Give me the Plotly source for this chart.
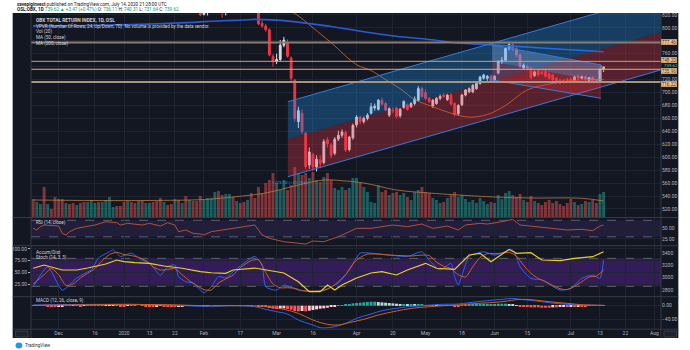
import plotly.graph_objects as go
import pandas as pd

# ---------------- sessions (Oslo Børs trading days) ----------------
HOLIDAYS = ["2019-12-24", "2019-12-25", "2019-12-26", "2019-12-31", "2020-01-01",
            "2020-04-09", "2020-04-10", "2020-04-13", "2020-05-01", "2020-05-21", "2020-06-01"]
sessions = [d.strftime("%Y-%m-%d") for d in pd.bdate_range("2019-11-21", "2020-08-10")
            if d.strftime("%Y-%m-%d") not in HOLIDAYS]
OFF = sessions.index("2019-12-02")   # bar numbers below are counted from 2019-12-02

TICK_DATES = ["2019-12-02", "2019-12-16", "2020-01-02", "2020-01-13", "2020-01-22", "2020-02-03",
              "2020-02-17", "2020-03-02", "2020-03-16", "2020-04-01", "2020-04-20", "2020-05-04",
              "2020-05-18", "2020-06-02", "2020-06-15", "2020-07-01", "2020-07-13", "2020-07-22",
              "2020-08-03"]
TICK_TEXT = ["Dec", "16", "2020", "13", "22", "Feb", "17", "Mar", "16", "Apr", "20", "May",
             "18", "Jun", "15", "Jul", "13", "22", "Aug"]

# ---------------- daily OHLC, bars -7 .. 150 ----------------
OPEN = [852, 848, 851, 855, 846, 851, 849, 846, 842, 838,
        843, 841, 837, 843, 841, 838, 843, 848, 853, 850,
        854, 858, 862, 866, 862, 860, 856, 861, 858, 854,
        859, 855, 860, 864, 860, 855, 848, 852, 846, 841,
        846, 838, 842, 833, 837, 830, 826, 821, 824, 834,
        840, 846, 838, 824, 832, 838, 834, 840, 836, 833,
        838, 836, 830, 807, 803, 797, 756, 748, 751, 773,
        777, 753, 719, 655, 668, 637, 588, 604, 585, 596,
        592, 627, 619, 606, 628, 634, 638, 612, 630, 650,
        662, 655, 660, 668, 676, 674, 688, 683, 665, 673,
        676, 664, 677, 681, 678, 683, 688, 706, 700, 691,
        679, 683, 691, 696, 689, 696, 683, 667, 681, 696,
        701, 701, 706, 714, 722, 722, 725, 718, 730, 748,
        750, 768, 774, 768, 758, 738, 740, 737, 726, 734,
        732, 732, 729, 727, 722, 719, 719, 720, 721, 718,
        725, 722, 724, 717, 723, 719, 717, 736.11]
HIGH = [855, 853, 857, 856, 852, 853, 851, 848, 844, 846,
        845, 843, 844, 845, 842, 845, 850, 854, 855, 856,
        860, 864, 867, 868, 864, 863, 863, 863, 860, 861,
        861, 862, 866, 866, 862, 857, 855, 854, 848, 848,
        847, 845, 844, 840, 839, 832, 828, 827, 836, 842,
        848, 847, 840, 834, 840, 840, 842, 842, 838, 840,
        840, 838, 832, 811, 806, 799, 759, 760, 781, 786,
        782, 756, 721, 678, 674, 639, 615, 607, 603, 603,
        628, 631, 622, 631, 641, 643, 641, 633, 652, 665,
        664, 663, 668, 684, 683, 690, 692, 685, 677, 677,
        678, 676, 688, 683, 685, 694, 710, 709, 705, 693,
        690, 693, 697, 699, 698, 699, 685, 682, 698, 705,
        708, 713, 716, 726, 729, 727, 728, 727, 750, 755,
        770, 778, 776, 770, 760, 745, 742, 739, 734, 736,
        734, 735, 731, 729, 724, 721, 721, 723, 724, 726,
        728, 726, 726, 724, 725, 721, 737, 740.31]
LOW = [846, 845, 849, 843, 844, 845, 842, 838, 835, 836,
       837, 834, 835, 838, 835, 836, 841, 846, 848, 848,
       852, 856, 860, 860, 857, 853, 854, 855, 851, 852,
       853, 853, 858, 858, 852, 845, 846, 843, 838, 839,
       835, 836, 830, 831, 828, 823, 818, 819, 819, 832,
       838, 836, 816, 819, 830, 831, 832, 833, 830, 831,
       833, 831, 804, 800, 794, 756, 740, 744, 748, 770,
       754, 718, 655, 645, 636, 581, 582, 579, 578, 583,
       589, 615, 598, 603, 625, 630, 608, 609, 627, 646,
       651, 652, 657, 666, 672, 672, 680, 671, 662, 668,
       660, 661, 675, 672, 676, 680, 686, 692, 688, 684,
       676, 681, 688, 692, 687, 680, 663, 664, 679, 694,
       699, 699, 704, 712, 720, 718, 716, 716, 728, 744,
       748, 765, 764, 755, 738, 735, 734, 720, 724, 725,
       727, 723, 720, 718, 714, 713, 714, 715, 715, 716,
       719, 720, 718, 715, 715, 714, 715, 731.64]
CLOSE = [848, 851, 855, 846, 850, 848, 845, 841, 838, 843,
         840, 837, 842, 840, 838, 843, 848, 852, 850, 854,
         858, 862, 865, 862, 859, 856, 861, 857, 854, 859,
         855, 860, 864, 860, 855, 848, 852, 846, 841, 846,
         838, 842, 833, 837, 830, 826, 820, 825, 834, 840,
         846, 838, 824, 832, 838, 834, 840, 836, 833, 838,
         836, 834, 806, 803, 797, 758, 748, 751, 773, 781,
         756, 722, 660, 672, 640, 585, 608, 585, 597, 590,
         624, 621, 603, 628, 634, 639, 611, 631, 649, 662,
         655, 660, 665, 678, 679, 688, 682, 673, 675, 672,
         663, 674, 686, 674, 683, 690, 706, 694, 691, 686,
         688, 691, 694, 694, 696, 682, 666, 680, 696, 704,
         706, 711, 714, 724, 727, 725, 718, 725, 748, 750,
         768, 774, 768, 758, 740, 742, 736, 723, 732, 727,
         729, 725, 722, 719.5, 717, 714.5, 715.5, 716, 717, 724,
         721, 724, 720, 723, 717, 715.5, 736.15, 739.62]
VOLUME = [18, 15, 13, 30, 13, 8, 20, 18, 18, 14,
          13, 14, 12, 14, 15, 15, 17, 14, 15, 15,
          17, 20, 10, 11, 11, 15, 16, 15, 14, 16,
          16, 14, 14, 15, 16, 19, 15, 12, 13, 18,
          17, 14, 21, 17, 16, 16, 21, 17, 19, 19,
          25, 26, 22, 23, 23, 20, 16, 14, 15, 17,
          24, 19, 30, 24, 34, 37, 44, 34, 27, 37,
          27, 32, 50, 44, 42, 44, 39, 45, 37, 35,
          40, 44, 37, 29, 27, 30, 27, 29, 39, 39,
          34, 30, 25, 15, 14, 32, 25, 27, 22, 24,
          25, 22, 24, 20, 17, 25, 27, 30, 25, 24,
          19, 17, 14, 15, 19, 22, 25, 20, 22, 18,
          15, 17, 14, 19, 16, 13, 15, 14, 22, 18,
          24, 26, 22, 20, 23, 17, 15, 21, 16, 14,
          12, 15, 17, 14, 16, 13, 11, 14, 18, 15,
          12, 13, 16, 15, 17, 14, 23, 25]
MACD_HIST = [0.5, 1, 1.5, -0.5, -1, -1.5, -2, -1.5, -1, 0.5,
             1, 0.5, -0.5, -1, -0.5, 0.5, 1, 1.5, 2, 2,
             1.5, 1, 0.5, -0.5, -1, -1, -0.5, 0.5, 0.5, 0,
             -0.5, -1, -1.5, -1.5, -1, -0.5, -1, -1.5, -2, -2,
             -1.5, -1, -0.5, 0.5, 1, 1.5, 1.5, 1, 0.5, 0,
             0.5, 1, 1.5, 1.5, 1, 0.5, 0, -0.5, 0, 0.5,
             0.5, 0, -1, -2, -4, -7, -9, -10, -9, -8,
             -10, -12, -16, -17, -16, -17, -15, -13, -11, -9,
             -8, -6, -4, -2, 1, 2, 4, 5, 7, 8,
             9, 10, 11, 12, 12, 11, 10, 9, 8, 7,
             6, 5, 5, 4, 4, 3, 3, 3, 2, 2,
             2, 1, 1, 1, 0.5, -0.5, -1, -1, 1, 2,
             3, 4, 4, 5, 5, 5, 5, 5, 6, 6,
             6, 5, 3, 1, -1, -3, -4, -5, -5, -5,
             -6, -6, -6, -5, -5, -4, -3, -3, -2, -2,
             -1, -1, -1, -0.5, -0.5, 0, 0.5, 1]
FIRST_BAR = -7
assert len(OPEN) == len(HIGH) == len(LOW) == len(CLOSE) == len(VOLUME) == len(MACD_HIST) == 158

# ---------------- indicator lines (bar number, value) ----------------
MA50_IDX = [58, 65, 70, 75, 82, 86, 90, 94, 98, 103, 108, 113, 118, 123, 129, 136, 143, 150]
MA50_VAL = [838, 822, 800, 777, 743, 734, 720, 706, 689, 678, 668, 662, 666, 680, 704, 714, 719, 720]
MA200_IDX = [-7, 9, 20, 35, 45, 51, 54, 64, 75, 84, 93, 102, 110, 120, 135, 150]
MA200_VAL = [803, 803.5, 805, 808, 811, 812, 813, 810, 802, 794, 787, 782, 776.5, 773.5, 768, 763]
VOLMA_IDX = [-7, 10, 25, 40, 48, 57, 66, 73, 78, 84, 93, 102, 110, 120, 130, 144, 150]
VOLMA_VAL = [17, 16.5, 16.5, 17.5, 20, 24, 32, 37, 36.3, 34, 27, 24, 22, 20, 19, 18.7, 16]

RSI_IDX = [-7, -6, -5, -4, 0, 1, 2, 3, 5, 8, 10, 13, 16, 17, 19, 23, 25, 28, 30, 32, 33, 35, 37, 39,
           40, 42, 45, 48, 52, 54, 56, 58, 62, 65, 68, 70, 73, 77, 79, 82, 86, 89, 92, 96, 100, 103,
           107, 110, 112, 116, 118, 122, 125, 127, 131, 136, 140, 144, 147, 149, 150]
RSI_VAL = [50.6, 46.5, 54.5, 58.6, 56.2, 38.5, 34.4, 42.4, 50.6, 54.5, 58.6, 66.6, 64.2, 58.6, 62.7,
           58.6, 62.7, 56.2, 64.2, 58.6, 42.4, 46.5, 38.5, 36.8, 34.4, 42.4, 46.5, 50.6, 54.5, 58.6,
           34.4, 26.4, 18.1, 15.7, 12.5, 19.8, 18.1, 30.2, 38.5, 50.6, 50.6, 54.5, 58.6, 54.5, 61,
           50.6, 56, 46.5, 58.6, 62.7, 61, 66.6, 72.4, 58.6, 54.5, 50.6, 46.5, 48.2, 44.8, 56.2, 58.6]

STOCH_K_IDX = [-7, -3, 1, 5, 8, 9, 11, 14, 15, 17, 20, 23, 25, 28, 30, 32, 33, 35, 37, 39, 40, 42, 44,
               46, 48, 54, 56, 57, 60, 62, 66, 70, 73, 77, 80, 83, 86, 91, 96, 100, 102, 105, 108, 109,
               110, 113, 117, 120, 125, 127, 130, 133, 138, 141, 144, 147, 149, 150]
STOCH_K_VAL = [18.6, 62, 12, 38, 51, 55, 81, 94, 98, 84, 91, 76, 70, 44, 62, 66, 41, 30, 27, 12, 6, 19,
               41, 38, 51, 84, 66, 19, 12, 23, 12, 9, 12, 27, 55, 91, 91, 87, 84, 94, 76, 55, 69, 41,
               23, 84, 94, 87, 98, 62, 37, 34, 12, 16, 37, 44, 37, 76]
STOCH_D_IDX = [-7, -4, -2, 0, 2, 4, 6, 8, 10, 12, 14, 16, 18, 20, 22, 24, 26, 28, 30, 32, 34, 36, 38,
               40, 42, 44, 46, 48, 50, 53, 55, 57, 59, 61, 63, 65, 67, 69, 71, 73, 75, 77, 79, 81, 83,
               85, 88, 91, 94, 97, 100, 102, 104, 106, 108, 110, 112, 114, 116, 118, 120, 122, 124,
               126, 128, 130, 132, 134, 136, 138, 140, 142, 144, 146, 148, 150]
STOCH_D_VAL = [25, 45, 58, 45, 22, 25, 38, 48, 58, 75, 88, 93, 88, 86, 82, 75, 62, 55, 56, 58, 45, 32,
               22, 13, 12, 27, 36, 44, 60, 75, 77, 50, 25, 17, 17, 16, 11, 10, 10, 11, 18, 30, 45, 68,
               82, 89, 89, 87, 86, 85, 87, 86, 72, 63, 58, 45, 40, 62, 82, 90, 90, 91, 93, 85, 65, 48,
               37, 30, 22, 15, 13, 20, 30, 40, 42, 55]
AD_IDX = [-7, -4, 1, 5, 8, 13, 16, 18, 21, 25, 29, 34, 39, 42, 46, 48, 54, 57, 62, 66, 69, 72, 74, 76,
          78, 82, 86, 89, 93, 96, 101, 104, 109, 113, 116, 119, 124, 126, 130, 133, 138, 142, 147, 150]
AD_VAL = [3155, 3208, 3127, 3127, 3159, 3225, 3290, 3263, 3246, 3236, 3192, 3155, 3099, 3082, 3073,
          3127, 3159, 3127, 3078, 2935, 2772, 2772, 2881, 2799, 2881, 2996, 3078, 3099, 3045, 3127,
          3236, 3155, 3138, 3372, 3400, 3263, 3465, 3400, 3410, 3290, 3279, 3318, 3344, 3426]

MACD_IDX = [-7, 0, 10, 20, 28, 35, 40, 45, 48, 54, 57, 60, 63, 66, 70, 72, 75, 79, 82, 86, 89, 93, 96,
            100, 105, 110, 113, 118, 122, 125, 127, 131, 135, 140, 144, 150]
MACD_VAL = [2, 3, 4, 4, 2, 0, -2, -1, 0, -3, -11, -18, -25, -43, -58, -66, -65, -53, -38, -25, -15, -8,
            -3, 0, 4, 5, 9, 15, 19, 22, 19, 15, 9, 4, 2, 1]
SIGNAL_IDX = [-7, 10, 20, 30, 40, 48, 55, 57, 62, 66, 70, 74, 77, 80, 84, 88, 93, 97, 102, 106, 110,
              113, 122, 127, 131, 135, 140, 144, 150]
SIGNAL_VAL = [1, 3, 4, 3, 0, 0, -1, -3, -11, -23, -43, -56, -58, -51, -41, -28, -16, -8, -3, 0, 2, 5,
              12, 19, 17, 12, 7, 3, 1]

# ---------------- drawings ----------------
BIG_CH_IDX = [63.1, 166.0]
BIG_CH_UPPER = [685.8, 851.3]
BIG_CH_MID = [628.2, 793.6]
BIG_CH_LOWER = [569.9, 735.3]
SMALL_CH_IDX = [119.3, 149.3]
SMALL_CH_UPPER = [773.5, 742.6]
SMALL_CH_MID = [747.7, 716.8]
SMALL_CH_LOWER = [719.4, 691.1]
LEVELS = [777.46, 748.20, 735.96, 716.22]
LEVEL_COLORS = ["#8c7d70", "#e09a58", "#e6ae78", "#a8937f"]
LEVEL_WIDTHS = [2, 1, 1, 2]
LEVEL_SHIFT = [0, 1, -1.5, -2]
LAST_PRICE = 739.62

# ---------------- styling ----------------
BG = "#131722"
GRID = "#1f2431"
AXC = "#b2b5be"
FONT = "Roboto"
UP = "#d9dce3"
DOWN = "#f23645"

W, H = 690, 350
ML, MR, MT, MB = 19, 18, 13, 21
PW, PH = W - ML - MR, H - MT - MB


def fx(px):
    return (px - ML) / PW


def fy(py):
    return (H - MB - py) / PH


def bars(idx_list):
    return [OFF + i for i in idx_list]


xb = bars(range(FIRST_BAR, FIRST_BAR + len(CLOSE)))
vol_colors = ["rgba(38,166,154,0.5)" if c >= o else "rgba(239,83,80,0.5)" for o, c in zip(OPEN, CLOSE)]
hist_colors = []
for i, h in enumerate(MACD_HIST):
    prev = MACD_HIST[i - 1] if i > 0 else h
    if h >= 0:
        hist_colors.append("#26a69a" if h >= prev else "#b2dfdb")
    else:
        hist_colors.append("#ffcdd2" if h > prev else "#ff5252")

fig = go.Figure()
fig.add_trace(go.Bar(x=xb, y=VOLUME, marker=dict(color=vol_colors, line=dict(width=0)),
                     xaxis="x", yaxis="y"))
fig.add_trace(go.Scatter(x=bars(VOLMA_IDX), y=VOLMA_VAL, mode="lines",
                         line=dict(color="#c0783c", width=0.8, shape="spline"), xaxis="x", yaxis="y"))
fig.add_trace(go.Candlestick(x=xb, open=OPEN, high=HIGH, low=LOW, close=CLOSE,
                             increasing=dict(line=dict(color=UP, width=1), fillcolor=UP),
                             decreasing=dict(line=dict(color=DOWN, width=1), fillcolor=DOWN),
                             whiskerwidth=0, xaxis="x", yaxis="y2"))
fig.add_trace(go.Scatter(x=bars(MA50_IDX), y=MA50_VAL, mode="lines",
                         line=dict(color="#c8642a", width=0.9, shape="spline"), xaxis="x", yaxis="y2"))
fig.add_trace(go.Scatter(x=bars(MA200_IDX), y=MA200_VAL, mode="lines",
                         line=dict(color="#2a5bd7", width=1.6, shape="spline"), xaxis="x", yaxis="y2"))
fig.add_trace(go.Scatter(x=bars(RSI_IDX), y=RSI_VAL, mode="lines",
                         line=dict(color="#b4503a", width=1), xaxis="x", yaxis="y3"))
fig.add_trace(go.Scatter(x=bars(STOCH_K_IDX), y=STOCH_K_VAL, mode="lines",
                         line=dict(color="#2962ff", width=1, shape="spline", smoothing=0.6),
                         xaxis="x", yaxis="y4"))
fig.add_trace(go.Scatter(x=bars(STOCH_D_IDX), y=STOCH_D_VAL, mode="lines",
                         line=dict(color="#d2601e", width=1, shape="spline", smoothing=0.6),
                         xaxis="x", yaxis="y4"))
fig.add_trace(go.Scatter(x=bars(AD_IDX), y=AD_VAL, mode="lines",
                         line=dict(color="#e9d02a", width=1.2), xaxis="x", yaxis="y5"))
fig.add_trace(go.Bar(x=xb, y=MACD_HIST, marker=dict(color=hist_colors, line=dict(width=0)),
                     xaxis="x", yaxis="y6"))
fig.add_trace(go.Scatter(x=bars(MACD_IDX), y=MACD_VAL, mode="lines",
                         line=dict(color="#2962ff", width=1, shape="spline"), xaxis="x", yaxis="y6"))
fig.add_trace(go.Scatter(x=bars(SIGNAL_IDX), y=SIGNAL_VAL, mode="lines",
                         line=dict(color="#d2601e", width=1, shape="spline"), xaxis="x", yaxis="y6"))

shapes = []
# dark chart canvas
shapes.append(dict(type="rect", xref="paper", yref="paper", x0=fx(0), x1=fx(W), y0=fy(338), y1=fy(13),
                   fillcolor=BG, line=dict(width=0), layer="below"))
# RSI band
shapes.append(dict(type="rect", xref="x domain", yref="y3", x0=0, x1=1, y0=30, y1=70,
                   fillcolor="rgba(120,60,200,0.16)", line=dict(width=0), layer="below"))
for lv in (70, 30):
    shapes.append(dict(type="line", xref="x domain", yref="y3", x0=0, x1=1, y0=lv, y1=lv,
                       line=dict(color="#6f7280", width=0.8, dash="dash"), layer="below"))
# Stoch band
shapes.append(dict(type="rect", xref="x domain", yref="y4", x0=0, x1=1, y0=20, y1=80,
                   fillcolor="rgba(120,40,200,0.33)", line=dict(width=0), layer="below"))
for lv in (80, 20):
    shapes.append(dict(type="line", xref="x domain", yref="y4", x0=0, x1=1, y0=lv, y1=lv,
                       line=dict(color="#6f7280", width=0.8, dash="dash"), layer="below"))


def poly(xs, top, bot):
    a0, a1 = OFF + xs[0], OFF + xs[1]
    return f"M {a0},{top[0]} L {a1},{top[1]} L {a1},{bot[1]} L {a0},{bot[0]} Z"


# big channel
shapes.append(dict(type="path", xref="x", yref="y2", path=poly(BIG_CH_IDX, BIG_CH_UPPER, BIG_CH_MID),
                   fillcolor="rgba(33,150,243,0.30)", line=dict(width=0), layer="above"))
shapes.append(dict(type="path", xref="x", yref="y2", path=poly(BIG_CH_IDX, BIG_CH_MID, BIG_CH_LOWER),
                   fillcolor="rgba(242,54,69,0.30)", line=dict(width=0), layer="above"))
for ln in (BIG_CH_UPPER, BIG_CH_LOWER):
    shapes.append(dict(type="line", xref="x", yref="y2", x0=OFF + BIG_CH_IDX[0], x1=OFF + BIG_CH_IDX[1],
                       y0=ln[0], y1=ln[1], line=dict(color="#2f7de1", width=1), layer="above"))
# small channel
shapes.append(dict(type="path", xref="x", yref="y2",
                   path=poly(SMALL_CH_IDX, SMALL_CH_UPPER, SMALL_CH_MID),
                   fillcolor="rgba(150,185,245,0.32)", line=dict(width=0), layer="above"))
shapes.append(dict(type="path", xref="x", yref="y2",
                   path=poly(SMALL_CH_IDX, SMALL_CH_MID, SMALL_CH_LOWER),
                   fillcolor="rgba(242,54,69,0.28)", line=dict(width=0), layer="above"))
for ln in (SMALL_CH_UPPER, SMALL_CH_LOWER):
    shapes.append(dict(type="line", xref="x", yref="y2", x0=OFF + SMALL_CH_IDX[0],
                       x1=OFF + SMALL_CH_IDX[1], y0=ln[0], y1=ln[1],
                       line=dict(color="#2f7de1", width=1), layer="above"))
shapes.append(dict(type="line", xref="x", yref="y2", x0=OFF + SMALL_CH_IDX[1], x1=OFF + SMALL_CH_IDX[1],
                   y0=SMALL_CH_UPPER[1], y1=SMALL_CH_MID[1],
                   line=dict(color="#9598a1", width=1), layer="above"))
# horizontal levels
for lv, col, wd in zip(LEVELS, LEVEL_COLORS, LEVEL_WIDTHS):
    shapes.append(dict(type="line", xref="x domain", yref="y2", x0=0, x1=1, y0=lv, y1=lv,
                       line=dict(color=col, width=wd), layer="above"))
# pane separators and borders
for py in (217.5, 245.7, 296.7, 329.2):
    shapes.append(dict(type="line", xref="paper", yref="paper", x0=fx(0), x1=fx(W), y0=fy(py), y1=fy(py),
                       line=dict(color="#363a45", width=1), layer="above"))
for pxl in (19, 672):
    shapes.append(dict(type="line", xref="paper", yref="paper", x0=fx(pxl), x1=fx(pxl), y0=fy(338),
                       y1=fy(13), line=dict(color="#363a45", width=1), layer="above"))
for bx in ((3, 16), (675, 688)):
    shapes.append(dict(type="rect", xref="paper", yref="paper", x0=fx(bx[0]), x1=fx(bx[1]),
                       y0=fy(337), y1=fy(331), line=dict(color="#434651", width=0.8),
                       fillcolor="#1e222d", layer="above"))
# logo
shapes.append(dict(type="circle", xref="paper", yref="paper", x0=fx(3), x1=fx(10), y0=fy(348.5),
                   y1=fy(342.5), fillcolor="#2196f3", line=dict(width=0)))

ann = []


def txt(px, py, text, size=5, color="#d1d4dc", anchor="left", **kw):
    ann.append(dict(xref="paper", yref="paper", x=fx(px), y=fy(py), text=text, showarrow=False,
                    xanchor=anchor, yanchor="middle", font=dict(family=FONT, size=size, color=color), **kw))


TEAL = "#089981"
txt(2, 4.5, "<b>savepiginvest</b> published on TradingView.com, July 14, 2020 21:28:00 UTC",
    size=4.6, color="#131722")
txt(2, 10, f"<b>OSL:OBX, 1D</b> <span style='color:{TEAL}'>739.62 ▲ +3.47 (+0.47%)</span> "
           f"O: <span style='color:{TEAL}'>736.11</span> H: <span style='color:{TEAL}'>740.31</span> "
           f"L: <span style='color:{TEAL}'>731.64</span> C: <span style='color:{TEAL}'>739.62</span>",
    size=4.6, color="#131722")
txt(22, 20, "<b>OBX TOTAL RETURN INDEX, 1D, OSL</b>", size=4.8)
txt(22, 26, "VPVR (Number Of Rows, 24, Up/Down, 70)  No volume is provided by the data vendor.", size=4.6)
txt(22, 32, "Vol (20)", size=4.6)
txt(22, 37.7, "MA (50, close)", size=4.6)
txt(22, 43.3, "MA (200, close)", size=4.6)
txt(22, 222.7, "RSI (14, close)", size=4.6)
txt(22, 252.3, "Accum/Dist", size=4.6)
txt(22, 257.8, "Stoch (14, 3, 3)", size=4.6)
txt(22, 300.5, "MACD (12, 26, close, 9)", size=4.6)
txt(267, 182, "−273.10 (−31.76%)", size=4.3, color="#2196f3")
txt(11, 345.5, "TradingView", size=4.6, color="#2a2e39")

# right-axis price labels
ann.append(dict(xref="paper", yref="y2", x=1, y=LAST_PRICE, xanchor="left", yanchor="middle", xshift=1,
                yshift=1.5, text=f"{LAST_PRICE:.2f}", showarrow=False,
                font=dict(family=FONT, size=4.4, color="#4fd1c2")))
for lv, sh in zip(LEVELS, LEVEL_SHIFT):
    ann.append(dict(xref="paper", yref="y2", x=1, y=lv, xanchor="left", yanchor="middle", xshift=0,
                    yshift=sh, text=f"{lv:.2f}", showarrow=False, bgcolor="#f3c896", bordercolor="#e09a50",
                    borderwidth=0.5, borderpad=0.2, font=dict(family=FONT, size=4.6, color="#3b2a16")))

tick_font = dict(family=FONT, size=5, color=AXC)
price_ticks = list(range(520, 821, 20))
HIDDEN_TICKS = [780, 740]   # covered by the level labels in the original
layout = dict(
    width=W, height=H, margin=dict(l=ML, r=MR, t=MT, b=MB, pad=0),
    paper_bgcolor="white", plot_bgcolor="rgba(0,0,0,0)", showlegend=False, bargap=0.2,
    xaxis=dict(range=[OFF - 7.6, OFF + 165.8], tickvals=[sessions.index(d) for d in TICK_DATES],
               ticktext=TICK_TEXT, showgrid=True, gridcolor=GRID, gridwidth=1, zeroline=False,
               showline=False, ticks="", tickfont=tick_font, anchor="y6", rangeslider=dict(visible=False)),
    yaxis=dict(domain=[fy(217), 1], range=[0, 204], visible=False, fixedrange=True),
    yaxis2=dict(overlaying="y", side="right", anchor="x", range=[507.6, 822.9], tickvals=price_ticks,
                ticktext=["" if v in HIDDEN_TICKS else f"{v:.2f}" for v in price_ticks],
                showgrid=True, gridcolor=GRID, zeroline=False, ticks="", tickfont=tick_font),
    yaxis3=dict(domain=[fy(245.5), fy(218)], side="right", anchor="x", range=[8.9, 75.6],
                tickvals=[25, 50], ticktext=["25.00", "50.00"], showgrid=True, gridcolor=GRID,
                zeroline=False, ticks="", tickfont=tick_font),
    yaxis4=dict(domain=[fy(296.5), fy(246)], side="left", anchor="x", range=[-1.7, 106.4],
                tickvals=[25, 50, 75, 100], ticktext=["25.00", "50.00", "75.00", "100.00"],
                showgrid=True, gridcolor=GRID, zeroline=False, ticks="outside", ticklen=2,
                tickcolor=AXC, tickfont=tick_font),
    yaxis5=dict(overlaying="y4", side="right", anchor="x", range=[2693, 3519.5],
                tickvals=[2800, 3000, 3200, 3400], ticktext=["2800", "3000", "3200", "3400"],
                showgrid=False, zeroline=False, ticks="", tickfont=tick_font),
    yaxis6=dict(domain=[0, fy(297)], side="right", anchor="x", range=[-70, 26.1],
                tickvals=[0, -40], ticktext=["0.00", "−40.00"], showgrid=True, gridcolor=GRID,
                zeroline=False, ticks="", tickfont=tick_font),
    shapes=shapes, annotations=ann,
)
fig.update_layout(**layout)
fig.write_html("out.html", config={"displayModeBar": False})
